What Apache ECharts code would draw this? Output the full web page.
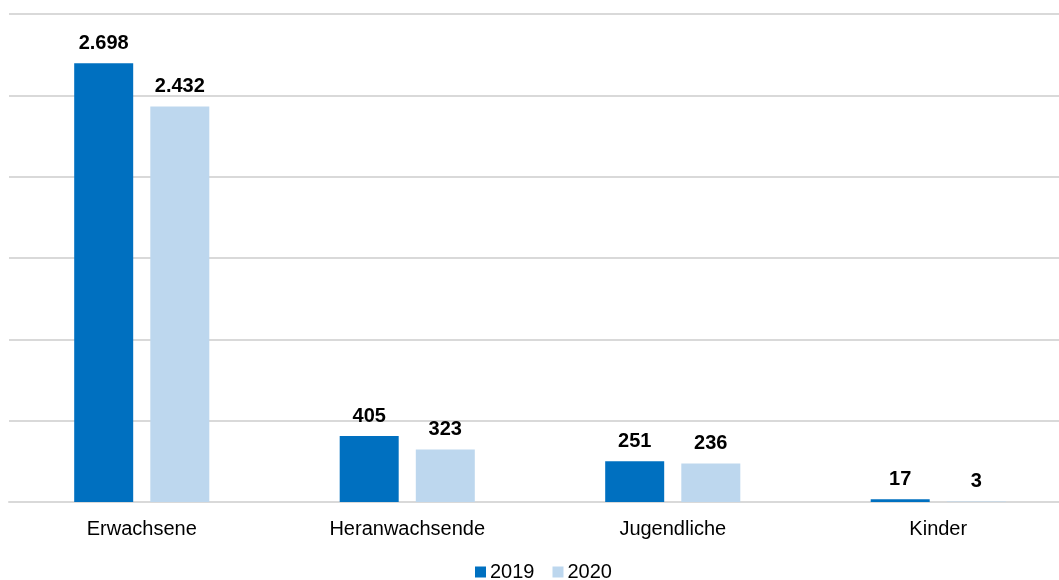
<!DOCTYPE html>
<html>
<head>
<meta charset="utf-8">
<script src="https://cdn.jsdelivr.net/npm/echarts@6/dist/echarts.min.js"></script>
<style>
  html, body { margin: 0; padding: 0; background: #fff; }
  #chart { width: 1059px; height: 580px; }
</style>
</head>
<body>
<div id="chart"></div>
<script>
const categories = ['Erwachsene', 'Heranwachsende', 'Jugendliche', 'Kinder']
const values2019 = [2698, 405, 251, 17]
const values2020 = [2432, 323, 236, 3]

const font = '"Liberation Sans", Arial, sans-serif'
const fmt = v => String(v).replace(/\B(?=(\d{3})+(?!\d))/g, '.')

const chart = echarts.init(document.getElementById('chart'))

const label = {
  show: true,
  position: 'top',
  distance: 10,
  color: '#000',
  fontWeight: 'bold',
  fontSize: 20,
  fontFamily: font,
  formatter: p => fmt(p.value)
}

chart.setOption({
  animation: false,
  grid: { left: 9, width: 1062, top: 14, bottom: 78, containLabel: false, outerBoundsMode: 'none' },
  legend: {
    bottom: -7,
    left: 470,
    itemWidth: 11,
    itemHeight: 11,
    itemGap: 18,
    icon: 'rect',
    textStyle: { fontSize: 20, fontFamily: font, color: '#000', padding: [0, 0, 0, -1] },
    data: ['2019', '2020']
  },
  xAxis: {
    type: 'category',
    data: categories,
    axisLine: { lineStyle: { color: '#d9d9d9', width: 2 } },
    axisTick: { show: false },
    axisLabel: { fontSize: 20, fontFamily: font, color: '#000', margin: 17 }
  },
  yAxis: {
    type: 'value',
    min: 0,
    max: 3000,
    interval: 500,
    axisLabel: { show: false },
    splitLine: { lineStyle: { color: '#d9d9d9', width: 2 } }
  },
  series: [
    {
      name: '2019',
      type: 'bar',
      data: values2019,
      barWidth: 59,
      barGap: '29%',
      itemStyle: { color: '#0070C0' },
      label
    },
    {
      name: '2020',
      type: 'bar',
      data: values2020,
      barWidth: 59,
      itemStyle: { color: '#BDD7EE' },
      label
    }
  ]
})
</script>
</body>
</html>
